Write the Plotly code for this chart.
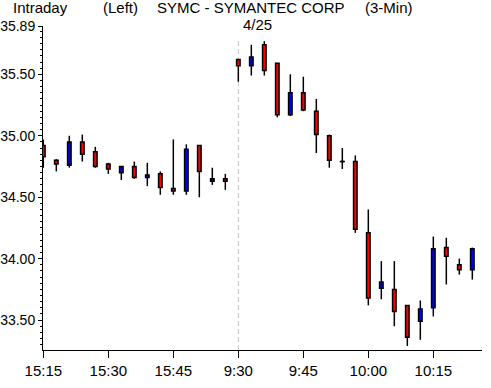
import plotly.graph_objects as go

# ---------------- data ----------------
times = ["15:15", "15:18", "15:21", "15:24", "15:27", "15:30", "15:33", "15:36",
         "15:39", "15:42", "15:45", "15:48", "15:51", "15:54", "15:57",
         "9:30", "9:33", "9:36", "9:39", "9:42", "9:45", "9:48", "9:51", "9:54",
         "9:57", "10:00", "10:03", "10:06", "10:09", "10:12", "10:15", "10:18",
         "10:21", "10:24"]
opens = [34.92, 34.80, 34.76, 34.95, 34.87, 34.77, 34.70, 34.75, 34.66, 34.69,
         34.57, 34.55, 34.92, 34.63, 34.65,
         35.62, 35.57, 35.74, 35.59, 35.17, 35.35, 35.20, 35.00, 34.79, 34.79,
         34.21, 33.76, 33.75, 33.62, 33.49, 33.60, 34.09, 33.95, 33.91]
highs = [34.97, 34.81, 35.00, 35.01, 34.91, 34.78, 34.75, 34.79, 34.78, 34.71,
         34.97, 34.93, 34.92, 34.74, 34.69,
         35.62, 35.74, 35.77, 35.59, 35.50, 35.48, 35.30, 35.01, 34.90, 34.84,
         34.40, 33.98, 33.98, 33.62, 33.66, 34.18, 34.17, 34.00, 34.09]
lows = [34.74, 34.71, 34.74, 34.79, 34.74, 34.69, 34.64, 34.65, 34.59, 34.52,
        34.52, 34.52, 34.50, 34.60, 34.56,
        35.44, 35.49, 35.49, 35.15, 35.16, 35.20, 34.86, 34.74, 34.73, 34.21,
        33.62, 33.67, 33.45, 33.29, 33.34, 33.53, 33.79, 33.87, 33.83]
closes = [34.83, 34.77, 34.95, 34.85, 34.75, 34.73, 34.75, 34.66, 34.68, 34.58,
          34.55, 34.89, 34.71, 34.65, 34.63,
          35.57, 35.64, 35.53, 35.17, 35.35, 35.21, 35.01, 34.80, 34.79, 34.24,
          33.68, 33.81, 33.57, 33.36, 33.59, 34.08, 34.02, 33.91, 34.08]

x_tick_labels = ["15:15", "15:30", "15:45", "9:30", "9:45", "10:00", "10:15"]
y_tick_vals = [33.50, 34.00, 34.50, 35.00, 35.50, 35.89]
y_tick_labels = ["33.50", "34.00", "34.50", "35.00", "35.50", "35.89"]
session_break = "9:30"
date_label = "4/25"

# ---------------- layout constants ----------------
W, H = 491, 388
ML, MR, MT, MB = 43, 9, 26, 38
PW, PH = W - ML - MR, H - MT - MB
FONT = "Liberation Sans, Arial, sans-serif"
FS = 15

def px_x(px):
    return (px - ML) / PW

def px_y(py):
    return (H - MB - py) / PH

xs = list(range(len(times)))
up = [c > o for o, c in zip(opens, closes)]
body_base = [min(o, c) for o, c in zip(opens, closes)]
body_h = [abs(c - o) for o, c in zip(opens, closes)]
colors = ["#0000ff" if u else "#ff0000" for u in up]

# wick segments (outside bodies so they never cross the fill)
wx, wy = [], []
for i in xs:
    top, bot = max(opens[i], closes[i]), min(opens[i], closes[i])
    if highs[i] > top:
        wx += [i, i, None]; wy += [highs[i], top, None]
    if lows[i] < bot:
        wx += [i, i, None]; wy += [bot, lows[i], None]
    if body_h[i] == 0:  # doji: horizontal dash
        wx += [i - 0.2, i + 0.2, None]; wy += [opens[i], opens[i], None]

fig = go.Figure()
fig.add_trace(go.Scatter(x=wx, y=wy, mode="lines", line=dict(color="black", width=1.5),
                         hoverinfo="skip", showlegend=False, cliponaxis=False))
fig.add_trace(go.Bar(x=xs, y=body_h, base=body_base, width=0.27,
                     marker=dict(color=colors, line=dict(color="black", width=1.5)),
                     showlegend=False, cliponaxis=False))

brk = times.index(session_break)
fig.add_shape(type="line", xref="x", yref="paper", x0=brk, x1=brk, y0=0, y1=px_y(39),
              line=dict(color="#c4c4c4", width=1, dash="5px,3px"), layer="below")

ann = [("Intraday", 11), ("(Left)", 101), ("SYMC - SYMANTEC CORP", 155), ("(3-Min)", 363)]
for txt, px in ann:
    fig.add_annotation(text=txt, xref="paper", yref="paper", x=px_x(px), y=px_y(8),
                       xanchor="left", yanchor="middle", showarrow=False,
                       font=dict(family=FONT, size=FS, color="black"))
fig.add_annotation(text=date_label, xref="paper", yref="paper", x=px_x(257.5), y=px_y(25),
                   xanchor="center", yanchor="middle", showarrow=False,
                   font=dict(family=FONT, size=FS, color="black"))

fig.update_layout(
    width=W, height=H, margin=dict(l=ML, r=MR, t=MT, b=MB, pad=0, autoexpand=False),
    paper_bgcolor="white", plot_bgcolor="white", bargap=0, hovermode=False,
    font=dict(family=FONT, size=FS, color="black"),
    xaxis=dict(range=[-0.025, 33.745], showgrid=False, zeroline=False, automargin=False,
               showline=True, linecolor="black", linewidth=1,
               ticks="outside", ticklen=7, tickwidth=1, tickcolor="black",
               tickmode="array", tickvals=[times.index(t) for t in x_tick_labels],
               ticktext=x_tick_labels, tickfont=dict(family=FONT, size=FS)),
    yaxis=dict(range=[33.257, 35.893], showgrid=False, zeroline=False, automargin=False,
               showline=True, linecolor="black", linewidth=1,
               ticks="outside", ticklen=4, tickwidth=1, tickcolor="black",
               tickmode="array", tickvals=y_tick_vals, ticktext=y_tick_labels,
               tickfont=dict(family=FONT, size=14),
               minor=dict(ticks="outside", ticklen=2, tickwidth=1, tickcolor="black",
                          dtick=0.05, tick0=0)),
)

fig.write_html("out.html", config={"displayModeBar": False, "staticPlot": True},
               post_script="document.body.style.margin='0';document.body.style.overflow='hidden';")
